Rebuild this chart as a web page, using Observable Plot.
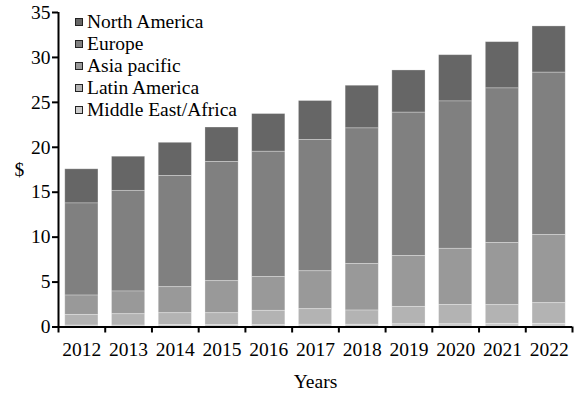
<!DOCTYPE html>
<html><head><meta charset="utf-8">
<script src="https://cdn.jsdelivr.net/npm/d3@7"></script>
<script src="https://cdn.jsdelivr.net/npm/@observablehq/plot@0.6"></script>
<style>
body{margin:0;background:#fff;}
#wrap{position:relative;width:574px;height:396px;font-family:"Liberation Serif","Times New Roman",serif;}
#legend{position:absolute;left:75px;top:11px;font-size:19.5px;color:#000;}
.row{display:flex;align-items:center;height:22px;white-space:nowrap;}
.sw{width:6px;height:6px;border:1.5px solid #222;margin-right:4px;flex:none;}
</style></head><body><div id="wrap"><div id="legend"></div></div>
<script>
const years = [2012, 2013, 2014, 2015, 2016, 2017, 2018, 2019, 2020, 2021, 2022];
const regions = ["North America", "Europe", "Asia pacific", "Latin America", "Middle East/Africa"];
const northAmerica     = [3.8, 3.8, 3.7, 3.85, 4.2, 4.35, 4.75, 4.7, 5.15, 5.15, 5.15];
const europe           = [10.25, 11.2, 12.37, 13.25, 13.95, 14.6, 15.1, 15.95, 16.4, 17.2, 18.05];
const asiaPacific      = [2.15, 2.53, 2.9, 3.57, 3.75, 4.22, 5.17, 5.66, 6.24, 6.92, 7.6];
const latinAmerica     = [1.2, 1.27, 1.33, 1.33, 1.6, 1.73, 1.58, 1.94, 2.16, 2.08, 2.3];
const middleEastAfrica = [0.15, 0.15, 0.2, 0.2, 0.2, 0.25, 0.25, 0.3, 0.3, 0.35, 0.35];
const colors = ["#666666", "#808080", "#999999", "#b3b3b3", "#cccccc"];
const yTicks = [0, 5, 10, 15, 20, 25, 30, 35];
const xLabel = "Years";
const yLabel = "$";

const seriesValues = [northAmerica, europe, asiaPacific, latinAmerica, middleEastAfrica];
const data = [];
regions.forEach((r, i) => years.forEach((y, j) => data.push({year: y, region: r, value: seriesValues[i][j]})));
const stackOrder = [...regions].reverse();
const half = 0.355;
const edges = [years[0] - 0.5, ...years.map(y => y + 0.5)];

const chart = Plot.plot({
  width: 574, height: 396,
  marginLeft: 58, marginRight: 2, marginTop: 12, marginBottom: 69.5,
  style: {fontFamily: '"Liberation Serif","Times New Roman",serif', fontSize: "19.5px", color: "#000", background: "#fff"},
  x: {domain: [years[0] - 0.5, years[years.length - 1] + 0.5], label: null},
  y: {domain: [0, 35], label: null},
  color: {domain: regions, range: colors},
  marks: [
    Plot.rectY(data, Plot.stackY({
      x1: d => d.year - half, x2: d => d.year + half,
      y: "value", fill: "region", order: stackOrder,
      stroke: "#fff", strokeOpacity: 0.35, strokeWidth: 0.8
    })),
    Plot.ruleX([edges[0]], {stroke: "#000", strokeWidth: 2}),
    Plot.ruleY([0], {stroke: "#000", strokeWidth: 2}),
    Plot.axisY(yTicks, {tickSize: 6, tickPadding: 2, strokeWidth: 2, label: null}),
    Plot.axisX(edges, {tickSize: 6, strokeWidth: 2, tickFormat: () => "", label: null}),
    Plot.axisX(years, {tickSize: 0, tickPadding: 15, tickFormat: d => String(d), label: null}),
    Plot.text([xLabel], {frameAnchor: "bottom", dy: 61, fill: "#000"}),
    Plot.text([yLabel], {frameAnchor: "left", dx: -44, fill: "#000"})
  ]
});
const wrap = document.getElementById("wrap");
wrap.insertBefore(chart, wrap.firstChild);
const color = chart.scale("color");
const legend = document.getElementById("legend");
regions.forEach(r => {
  const row = document.createElement("div");
  row.className = "row";
  const sw = document.createElement("div");
  sw.className = "sw";
  sw.style.background = colors[color.domain.indexOf(r)];
  const t = document.createElement("span");
  t.textContent = r;
  row.appendChild(sw); row.appendChild(t);
  legend.appendChild(row);
});
</script></body></html>
